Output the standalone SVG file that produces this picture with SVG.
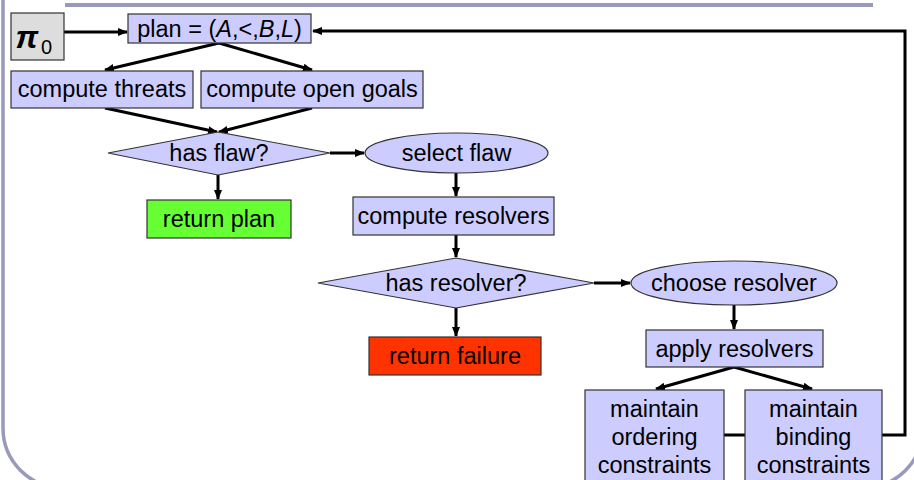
<svg xmlns="http://www.w3.org/2000/svg" width="914" height="480" viewBox="0 0 914 480">
  <defs>
    <marker id="arrow" viewBox="0 0 10 10" refX="9" refY="5" markerWidth="10" markerHeight="10" markerUnits="userSpaceOnUse" orient="auto">
      <path d="M0,1 L10,5 L0,9 Z" fill="#000"/>
    </marker>
    <style>
      .node { fill: #ccccff; stroke: #333; stroke-width: 1.2; }
      .start { fill: #dddddd; stroke: #333; stroke-width: 1.2; }
      .ok { fill: #66ff33; stroke: #333; stroke-width: 1.2; }
      .fail { fill: #ff3300; stroke: #333; stroke-width: 1.2; }
      .lbl { font-family: "Liberation Sans", Arial, sans-serif; font-size: 23.5px; fill: #000; text-anchor: middle; }
      .edge { fill: none; stroke: #000; stroke-width: 3; }
      .arr { marker-end: url(#arrow); }
      .frame { fill: none; stroke: #9999bb; stroke-width: 3.5; }
    </style>
  </defs>

  <rect width="914" height="480" fill="#fff"/>

  <!-- slide frame -->
  <path class="frame" d="M3,0 L3,428 A60,60 0 0 0 63,488 L863,488 A60,60 0 0 0 923,428"/>
  <line x1="65" y1="5" x2="873" y2="5" stroke="#9999bb" stroke-width="4"/>

  <!-- connectors -->
  <g id="connectors">
    <line class="edge arr" x1="64" y1="32" x2="127" y2="32"/>
    <polyline class="edge arr" points="882,435 905,435 905,31 313,31"/>
    <line class="edge arr" x1="219" y1="43" x2="105" y2="70"/>
    <line class="edge arr" x1="219" y1="43" x2="312" y2="70"/>
    <line class="edge arr" x1="105" y1="108" x2="217" y2="132"/>
    <line class="edge arr" x1="312" y1="108" x2="219" y2="132"/>
    <line class="edge arr" x1="330" y1="153" x2="364" y2="153"/>
    <line class="edge arr" x1="218" y1="175" x2="218" y2="199"/>
    <line class="edge arr" x1="456" y1="173" x2="456" y2="196"/>
    <line class="edge arr" x1="456" y1="235" x2="456" y2="257"/>
    <line class="edge arr" x1="594" y1="283" x2="630" y2="283"/>
    <line class="edge arr" x1="456" y1="308" x2="456" y2="336"/>
    <line class="edge arr" x1="734" y1="305" x2="734" y2="329"/>
    <line class="edge arr" x1="734" y1="367" x2="656" y2="389"/>
    <line class="edge arr" x1="734" y1="367" x2="812" y2="389"/>
    <line class="edge" x1="724" y1="435" x2="745" y2="435"/>
  </g>

  <g id="pi0">
    <rect class="start" x="11" y="13" width="53" height="47"/>
    <text x="27" y="48" font-family="'Liberation Sans', Arial, sans-serif" font-size="32" font-weight="bold" font-style="italic" text-anchor="middle">π</text>
    <text x="41" y="54" font-family="'Liberation Sans', Arial, sans-serif" font-size="20">0</text>
  </g>

  <g id="plan">
    <rect class="node" x="128" y="14" width="183" height="29"/>
    <text class="lbl" x="219.5" y="37">plan = (<tspan font-style="italic">A</tspan>,<tspan font-weight="lighter">&lt;</tspan>,<tspan font-style="italic">B</tspan>,<tspan font-style="italic">L</tspan>)</text>
  </g>

  <g id="compute-threats">
    <rect class="node" x="11" y="71" width="182" height="37"/>
    <text class="lbl" x="102" y="97">compute threats</text>
  </g>

  <g id="compute-open-goals">
    <rect class="node" x="201" y="71" width="222" height="37"/>
    <text class="lbl" x="312" y="97">compute open goals</text>
  </g>

  <g id="has-flaw">
    <polygon class="node" points="108,153 218,132 330,153 218,175"/>
    <text class="lbl" x="219" y="161">has flaw?</text>
  </g>

  <g id="select-flaw">
    <ellipse class="node" cx="456.5" cy="153" rx="91.5" ry="20"/>
    <text class="lbl" x="456.5" y="161">select flaw</text>
  </g>

  <g id="return-plan">
    <rect class="ok" x="147" y="200" width="144" height="38"/>
    <text class="lbl" x="219" y="227">return plan</text>
  </g>

  <g id="compute-resolvers">
    <rect class="node" x="353" y="197" width="201" height="38"/>
    <text class="lbl" x="453.5" y="224">compute resolvers</text>
  </g>

  <g id="has-resolver">
    <polygon class="node" points="318,283 456,258 594,283 456,308"/>
    <text class="lbl" x="456" y="291">has resolver?</text>
  </g>

  <g id="choose-resolver">
    <ellipse class="node" cx="734" cy="283" rx="103" ry="22"/>
    <text class="lbl" x="734" y="291">choose resolver</text>
  </g>

  <g id="return-failure">
    <rect class="fail" x="369" y="337" width="172" height="38"/>
    <text class="lbl" x="455" y="364">return failure</text>
  </g>

  <g id="apply-resolvers">
    <rect class="node" x="646" y="330" width="177" height="37"/>
    <text class="lbl" x="734.5" y="357">apply resolvers</text>
  </g>

  <g id="maintain-ordering">
    <rect class="node" x="585" y="390" width="139" height="95"/>
    <text class="lbl" x="654.5" y="417">maintain</text>
    <text class="lbl" x="654.5" y="445">ordering</text>
    <text class="lbl" x="654.5" y="473">constraints</text>
  </g>

  <g id="maintain-binding">
    <rect class="node" x="745" y="390" width="137" height="95"/>
    <text class="lbl" x="813.5" y="417">maintain</text>
    <text class="lbl" x="813.5" y="445">binding</text>
    <text class="lbl" x="813.5" y="473">constraints</text>
  </g>
</svg>
